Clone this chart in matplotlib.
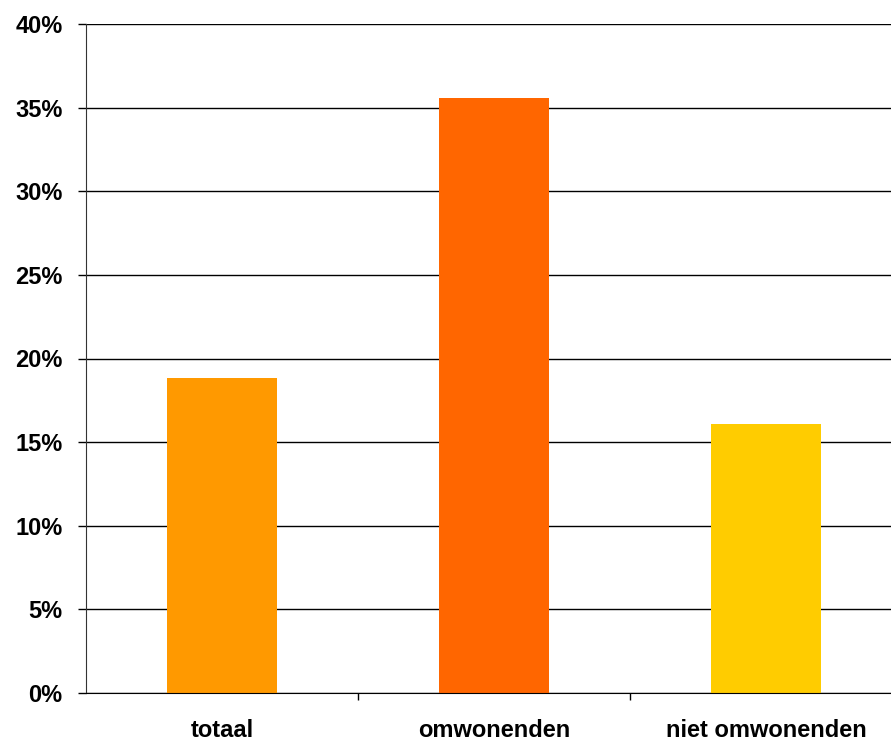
import matplotlib
matplotlib.use('Agg')
import matplotlib.pyplot as plt
from matplotlib.ticker import FuncFormatter

categories = ['totaal', 'omwonenden', 'niet omwonenden']
values = [18.85, 35.55, 16.1]
colors = ['#FF9900', '#FF6600', '#FFCC00']
yticks = [0, 5, 10, 15, 20, 25, 30, 35, 40]

plt.rcParams['font.family'] = ['Liberation Sans', 'DejaVu Sans']

fig = plt.figure(figsize=(8.91, 7.44), dpi=100)
# the plot area runs a little past the right edge, as in the original
ax = fig.add_axes([86 / 891, 1 - 693 / 744, 816 / 891, 669 / 744])

x = list(range(len(categories)))
ax.bar(x, values, width=0.405, color=colors, zorder=2)

ax.set_xlim(-0.5, 2.5)
ax.set_ylim(0, 40)
ax.set_yticks(yticks)
ax.yaxis.set_major_formatter(FuncFormatter(lambda v, p: '%d%%' % v))
ax.grid(axis='y', color='black', linewidth=1, zorder=1)

# category labels sit between the boundary ticks
ax.set_xticks([0.5, 1.5])
ax.set_xticklabels([])
ax.set_xticks(x, minor=True)
ax.set_xticklabels(categories, minor=True)
ax.tick_params(axis='x', which='minor', length=0, pad=19)
ax.tick_params(axis='x', which='major', length=5, width=1)
ax.tick_params(axis='y', length=6, width=1, pad=11)

for lbl in ax.get_xticklabels(minor=True) + ax.get_yticklabels():
    lbl.set_fontsize(17)
    lbl.set_fontweight('bold')

for s in ['top', 'right']:
    ax.spines[s].set_visible(False)
ax.spines['left'].set_color('#333333')
ax.spines['bottom'].set_color('black')

fig.savefig('out.png', dpi=100)
